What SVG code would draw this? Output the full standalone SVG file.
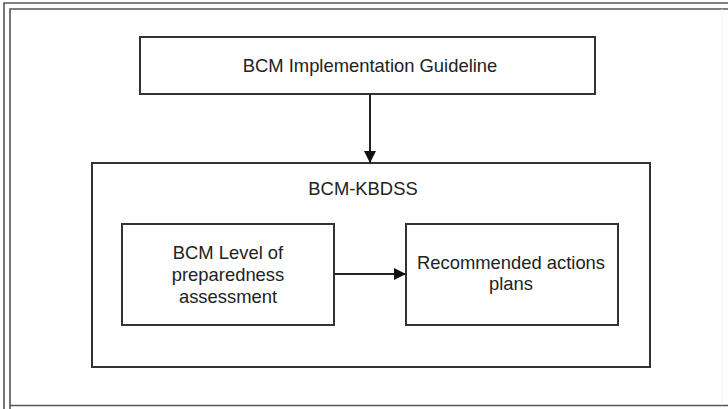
<svg xmlns="http://www.w3.org/2000/svg" width="728" height="409" viewBox="0 0 728 409">
  <style>
    .box { fill: #fff; stroke: #333; stroke-width: 2; }
    .frame { fill: none; stroke: #555; stroke-width: 1.6; }
    .lbl { font-family: "Liberation Sans", Arial, sans-serif; font-size: 18.4px; fill: #222; text-anchor: middle; }
    .conn { stroke: #222; stroke-width: 2; fill: none; }
  </style>
  <defs>
    <marker id="arrow" viewBox="0 0 10 10" refX="10" refY="5" markerWidth="6" markerHeight="6" orient="auto" markerUnits="strokeWidth">
      <path d="M0,0 L10,5 L0,10 z" fill="#111"/>
    </marker>
  </defs>
  <rect width="728" height="409" fill="#fff"/>
  <g id="frame">
    <polyline class="frame" points="4,409 4,3 728,3"/>
    <polyline class="frame" points="10,409 10,9 728,9"/>
    <line class="frame" x1="10" y1="405.5" x2="728" y2="405.5"/>
    <line x1="722" y1="9" x2="722" y2="405" stroke="#f2f2f2" stroke-width="1"/>
  </g>
  <g id="guideline">
    <rect class="box" x="140" y="37" width="455" height="57"/>
    <text class="lbl" x="370" y="72">BCM Implementation Guideline</text>
  </g>
  <g id="kbdss">
    <rect class="box" x="92" y="163" width="558" height="204"/>
    <text class="lbl" x="363" y="195">BCM-KBDSS</text>
  </g>
  <g id="assessment">
    <rect class="box" x="122" y="224" width="212" height="101"/>
    <text class="lbl" x="228" y="259">BCM Level of</text>
    <text class="lbl" x="228" y="281">preparedness</text>
    <text class="lbl" x="228" y="303">assessment</text>
  </g>
  <g id="actions">
    <rect class="box" x="406" y="224" width="212" height="101"/>
    <text class="lbl" x="511" y="269">Recommended actions</text>
    <text class="lbl" x="511" y="290">plans</text>
  </g>
  <g id="connectors">
    <line class="conn" x1="370" y1="94" x2="370" y2="163" marker-end="url(#arrow)"/>
    <line class="conn" x1="334" y1="274" x2="406" y2="274" marker-end="url(#arrow)"/>
  </g>
</svg>
